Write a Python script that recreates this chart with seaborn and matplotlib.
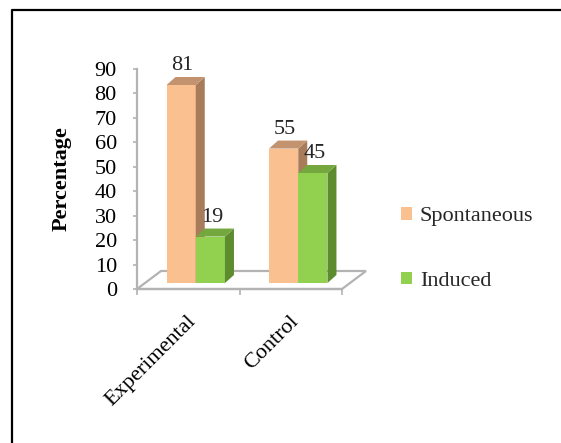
import matplotlib
matplotlib.use("Agg")
import matplotlib.pyplot as plt
from matplotlib.lines import Line2D
from matplotlib.patches import Polygon
from matplotlib.transforms import ScaledTranslation
import pandas as pd
import seaborn as sns

# ---- data -------------------------------------------------------------
groups = ["Experimental", "Control"]
series_names = ["Spontaneous", "Induced"]
spontaneous = [81, 55]
induced = [19, 45]
y_ticks = [0, 10, 20, 30, 40, 50, 60, 70, 80, 90]

# ---- colours ------------------------------------------------------------
front_colors = ["#fac090", "#92d050"]
top_colors = ["#c39370", "#74a83e"]
side_colors = ["#a87c5b", "#5d8c2e"]
axis_grey = "#b3b3b3"

df = pd.DataFrame({
    "group": groups * 2,
    "type": [series_names[0]] * len(groups) + [series_names[1]] * len(groups),
    "value": spontaneous + induced,
})

sns.set_theme(style="ticks")
plt.rcParams["font.family"] = ["Liberation Serif", "DejaVu Serif"]

W, H, DPI = 561, 443, 100
fig = plt.figure(figsize=(W / DPI, H / DPI), dpi=DPI)
fig.patch.set_facecolor("white")

# plot box in pixels
ax_left, ax_right, ax_top, ax_bottom = 137, 342, 69, 289
ax = fig.add_axes([ax_left / W, 1 - ax_bottom / H,
                   (ax_right - ax_left) / W, (ax_bottom - ax_top) / H])
ax.patch.set_alpha(0)

sns.barplot(data=df, x="group", y="value", hue="type", order=groups,
            hue_order=series_names, palette=front_colors, saturation=1,
            width=0.57, linewidth=0, errorbar=None, ax=ax)

ax.set_xlim(-0.5, len(groups) - 0.5)
ax.set_ylim(0, 90)

px_x = (ax_right - ax_left) / len(groups)   # pixels per category
px_y = (ax_bottom - ax_top) / 90.0            # pixels per percent

# bars stand on the floor, a few pixels behind the front edge
lift = ax.transData + ScaledTranslation(7.5 / DPI, 6 / DPI, fig.dpi_scale_trans)
ddx, ddy = 9 / px_x, 8 / px_y                 # column depth

values = [spontaneous, induced]
containers = list(ax.containers)
for s, cont in enumerate(containers):
    z = 2 + s
    for p, v in zip(cont.patches, values[s]):
        x0, w, h = p.get_x(), p.get_width(), p.get_height()
        p.set_transform(lift)
        p.set_zorder(z)
        p.set_clip_on(False)
        side = Polygon([(x0 + w, 0), (x0 + w, h), (x0 + w + ddx, h + ddy),
                        (x0 + w + ddx, ddy)], closed=True, transform=lift,
                       facecolor=side_colors[s], linewidth=0, zorder=z,
                       clip_on=False)
        top = Polygon([(x0, h), (x0 + w, h), (x0 + w + ddx, h + ddy),
                       (x0 + ddx, h + ddy)], closed=True, transform=lift,
                      facecolor=top_colors[s], linewidth=0, zorder=z,
                      clip_on=False)
        ax.add_patch(side)
        ax.add_patch(top)
        ax.annotate(str(v), xy=(x0 + w / 2, v), xycoords=lift,
                    xytext=(1.1, 10.8), textcoords="offset points",
                    ha="center", va="baseline", fontsize=16, zorder=6)

# floor of the 3-D plot area
fdx, fdy = 24 / px_x, 18 / px_y
x_lo, x_hi = -0.5, len(groups) - 0.5
floor = Polygon([(x_lo, 0), (x_hi, 0), (x_hi + fdx, fdy), (x_lo + fdx, fdy)],
                closed=True, facecolor="white", edgecolor=axis_grey,
                linewidth=1.6, zorder=1, clip_on=False)
ax.add_patch(floor)

# axes styling
for sp in ["top", "right"]:
    ax.spines[sp].set_visible(False)
for sp in ["left", "bottom"]:
    ax.spines[sp].set_color(axis_grey)
    ax.spines[sp].set_linewidth(1.6)

ax.set_yticks(y_ticks)
ax.tick_params(axis="y", length=3, width=1.2, color=axis_grey, pad=11.5,
               labelsize=16, labelcolor="black")
ax.set_xticks([x_lo + i for i in range(len(groups) + 1)])
ax.set_xticklabels([])
ax.tick_params(axis="x", length=4, width=1.2, color=axis_grey)
ax.set_xlabel("")

ax.set_ylabel("Percentage", fontsize=16, fontweight="bold", color="black")
ax.yaxis.set_label_coords((72 - ax_left) / (ax_right - ax_left), 0.5)

# rotated category names
cat_shift = ax.transData + ScaledTranslation(8 / DPI, -33 / DPI, fig.dpi_scale_trans)
for i, g in enumerate(groups):
    ax.text(i, 0, g, transform=cat_shift, rotation=45, rotation_mode="anchor",
            ha="right", va="baseline", fontsize=16, color="black")

# legend to the right of the plot
sns.move_legend(ax, "upper left", bbox_to_anchor=(401 / W, 1 - 207 / H),
                bbox_transform=fig.transFigure, frameon=False, title=None,
                fontsize=16, handlelength=0.5, handleheight=0.5,
                handletextpad=0.35, labelspacing=2.05, borderpad=0,
                borderaxespad=0)

# chart frame
fig.add_artist(Line2D([12 / W, 12 / W, 1.0], [0.0, 1 - 10 / H, 1 - 10 / H],
                      transform=fig.transFigure, color="black", linewidth=1.6))

fig.savefig("out.png", dpi=DPI, facecolor="white")
